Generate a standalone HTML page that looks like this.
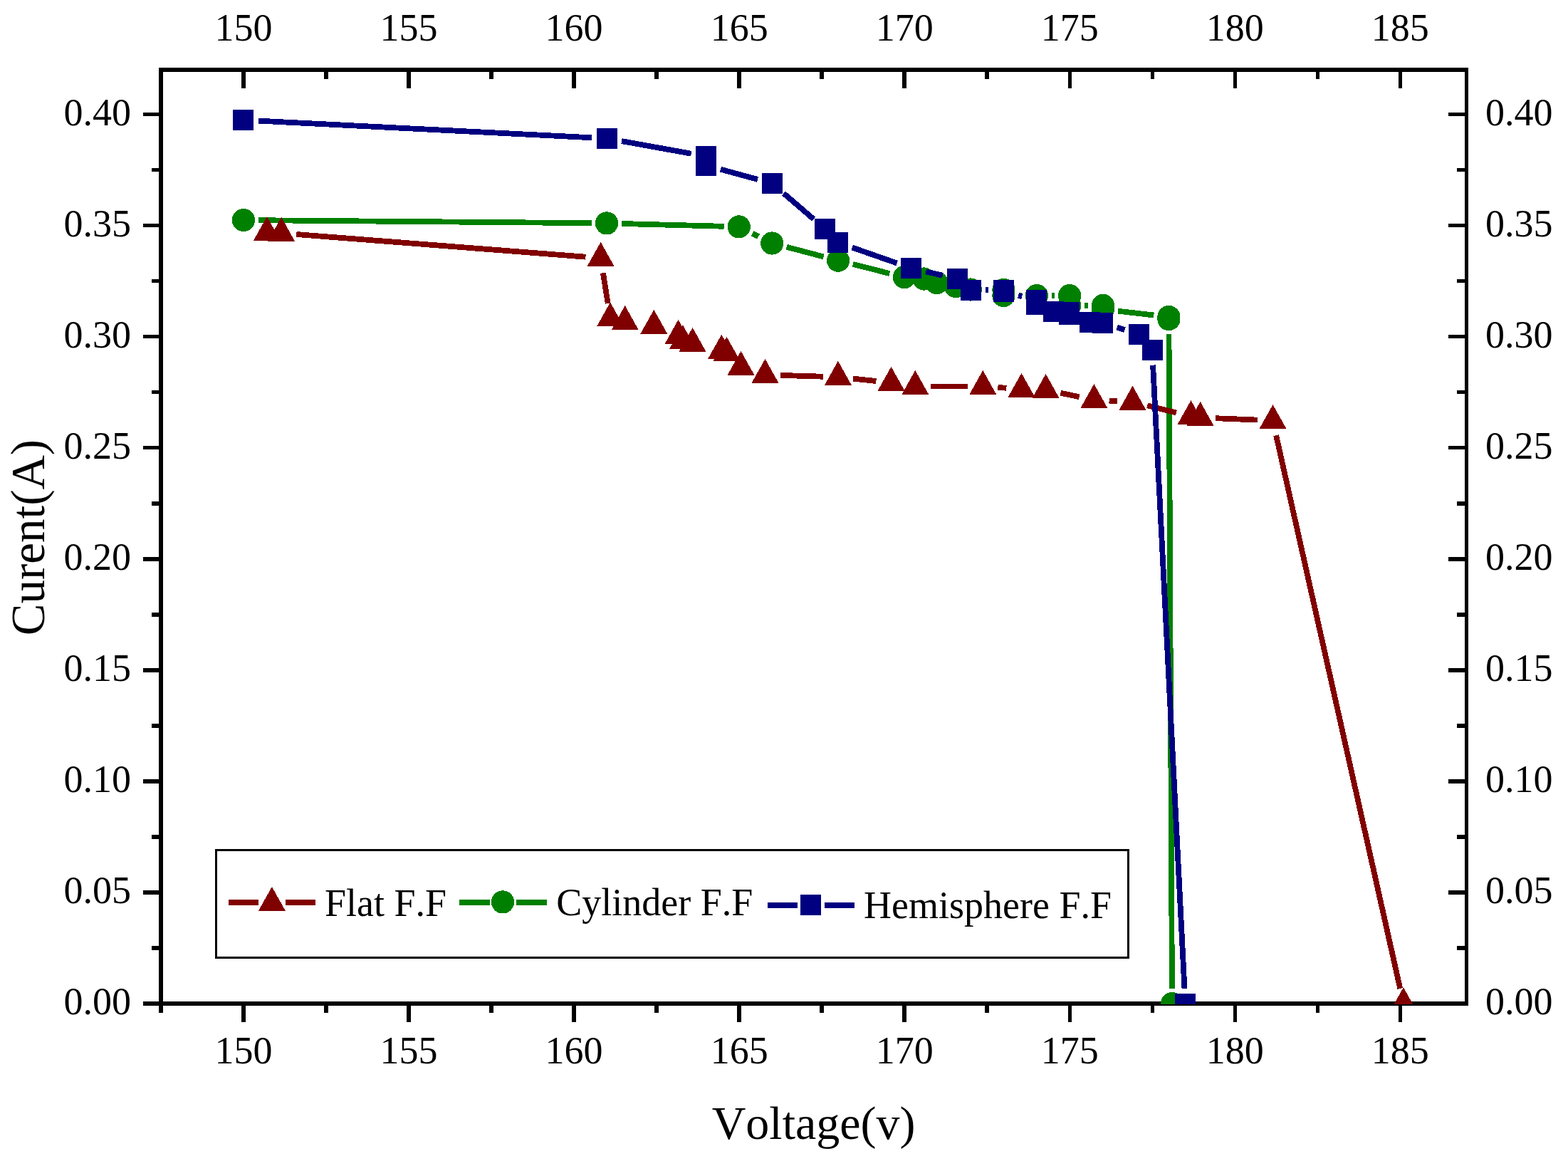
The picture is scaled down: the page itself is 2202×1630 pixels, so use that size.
<!DOCTYPE html>
<html lang="en">
<head>
<meta charset="utf-8">
<title>Current vs Voltage</title>
<style>
html,body{margin:0;padding:0;background:#fff;}
body{width:2202px;height:1630px;overflow:hidden;}
svg{display:block;}
text{font-family:"Liberation Serif",serif;fill:#000;font-kerning:none;}
.tick{font-size:54px;}
.title{font-size:66.7px;}
.leg{font-size:54px;}
</style>
</head>
<body>
<svg width="2202" height="1630" viewBox="0 0 2202 1630" role="img" aria-label="Current versus voltage for Flat, Cylinder and Hemisphere F.F">
<rect x="0" y="0" width="2202" height="1630" fill="#fff"/>
<g id="axes" fill="#000" shape-rendering="crispEdges">
<rect x="223" y="95" width="1839" height="6"/>
<rect x="223" y="1406" width="1839" height="6"/>
<rect x="223" y="95" width="6" height="1317"/>
<rect x="2057" y="95" width="5" height="1317"/>
<rect x="223" y="98" width="6" height="13"/><rect x="223" y="1409" width="6" height="13"/>
<rect x="339" y="98" width="6" height="26"/><rect x="339" y="1409" width="6" height="26"/>
<rect x="455" y="98" width="6" height="13"/><rect x="455" y="1409" width="6" height="13"/>
<rect x="571" y="98" width="6" height="26"/><rect x="571" y="1409" width="6" height="26"/>
<rect x="687" y="98" width="6" height="13"/><rect x="687" y="1409" width="6" height="13"/>
<rect x="803" y="98" width="6" height="26"/><rect x="803" y="1409" width="6" height="26"/>
<rect x="919" y="98" width="6" height="13"/><rect x="919" y="1409" width="6" height="13"/>
<rect x="1035" y="98" width="6" height="26"/><rect x="1035" y="1409" width="6" height="26"/>
<rect x="1151" y="98" width="6" height="13"/><rect x="1151" y="1409" width="6" height="13"/>
<rect x="1267" y="98" width="6" height="26"/><rect x="1267" y="1409" width="6" height="26"/>
<rect x="1383" y="98" width="6" height="13"/><rect x="1383" y="1409" width="6" height="13"/>
<rect x="1500" y="98" width="5" height="26"/><rect x="1500" y="1409" width="5" height="26"/>
<rect x="1616" y="98" width="5" height="13"/><rect x="1616" y="1409" width="5" height="13"/>
<rect x="1732" y="98" width="5" height="26"/><rect x="1732" y="1409" width="5" height="26"/>
<rect x="1848" y="98" width="5" height="13"/><rect x="1848" y="1409" width="5" height="13"/>
<rect x="1964" y="98" width="5" height="26"/><rect x="1964" y="1409" width="5" height="26"/>
<rect x="201" y="1406" width="25" height="6"/><rect x="2034" y="1406" width="25" height="6"/>
<rect x="213" y="1328" width="13" height="6"/><rect x="2046" y="1328" width="13" height="6"/>
<rect x="201" y="1250" width="25" height="6"/><rect x="2034" y="1250" width="25" height="6"/>
<rect x="213" y="1172" width="13" height="6"/><rect x="2046" y="1172" width="13" height="6"/>
<rect x="201" y="1094" width="25" height="6"/><rect x="2034" y="1094" width="25" height="6"/>
<rect x="213" y="1016" width="13" height="6"/><rect x="2046" y="1016" width="13" height="6"/>
<rect x="201" y="938" width="25" height="6"/><rect x="2034" y="938" width="25" height="6"/>
<rect x="213" y="860" width="13" height="6"/><rect x="2046" y="860" width="13" height="6"/>
<rect x="201" y="782" width="25" height="6"/><rect x="2034" y="782" width="25" height="6"/>
<rect x="213" y="704" width="13" height="6"/><rect x="2046" y="704" width="13" height="6"/>
<rect x="201" y="626" width="25" height="5"/><rect x="2034" y="626" width="25" height="5"/>
<rect x="213" y="548" width="13" height="5"/><rect x="2046" y="548" width="13" height="5"/>
<rect x="201" y="470" width="25" height="5"/><rect x="2034" y="470" width="25" height="5"/>
<rect x="213" y="392" width="13" height="5"/><rect x="2046" y="392" width="13" height="5"/>
<rect x="201" y="314" width="25" height="5"/><rect x="2034" y="314" width="25" height="5"/>
<rect x="213" y="236" width="13" height="5"/><rect x="2046" y="236" width="13" height="5"/>
<rect x="201" y="158" width="25" height="5"/><rect x="2034" y="158" width="25" height="5"/>
</g>
<g id="xlabels" class="tick" text-anchor="middle">
<text x="342" y="56.6">150</text><text x="342" y="1493.4">150</text>
<text x="574" y="56.6">155</text><text x="574" y="1493.4">155</text>
<text x="806.1" y="56.6">160</text><text x="806.1" y="1493.4">160</text>
<text x="1038.2" y="56.6">165</text><text x="1038.2" y="1493.4">165</text>
<text x="1270.2" y="56.6">170</text><text x="1270.2" y="1493.4">170</text>
<text x="1502.2" y="56.6">175</text><text x="1502.2" y="1493.4">175</text>
<text x="1734.3" y="56.6">180</text><text x="1734.3" y="1493.4">180</text>
<text x="1966.3" y="56.6">185</text><text x="1966.3" y="1493.4">185</text>
</g>
<g id="ylabels" class="tick">
<text x="184" y="1424.3" text-anchor="end">0.00</text><text x="2086.1" y="1424.3">0.00</text>
<text x="184" y="1268.3" text-anchor="end">0.05</text><text x="2086.1" y="1268.3">0.05</text>
<text x="184" y="1112.2" text-anchor="end">0.10</text><text x="2086.1" y="1112.2">0.10</text>
<text x="184" y="956.2" text-anchor="end">0.15</text><text x="2086.1" y="956.2">0.15</text>
<text x="184" y="800.1" text-anchor="end">0.20</text><text x="2086.1" y="800.1">0.20</text>
<text x="184" y="644" text-anchor="end">0.25</text><text x="2086.1" y="644">0.25</text>
<text x="184" y="488" text-anchor="end">0.30</text><text x="2086.1" y="488">0.30</text>
<text x="184" y="331.9" text-anchor="end">0.35</text><text x="2086.1" y="331.9">0.35</text>
<text x="184" y="175.8" text-anchor="end">0.40</text><text x="2086.1" y="175.8">0.40</text>
</g>
<text class="title" x="1142.6" y="1599.4" text-anchor="middle" style="font-size:66px">Voltage(v)</text>
<text class="title" transform="translate(61.8 754.5) rotate(-90)" text-anchor="middle" style="font-size:67px">Curent(A)</text>
<defs><clipPath id="clip"><rect x="226" y="98" width="1834" height="1312"/></clipPath></defs>
<g id="data" clip-path="url(#clip)" shape-rendering="crispEdges">
<g id="cylinder"><path d="M363.1 309.2L830.8 313.2M873.2 314L1016.6 317.8M1056.8 327.8L1065.2 332.1M1104.7 346.8L1156.6 360.4M1197.7 370.9L1249.3 384M1384.1 406.7L1388.2 406.7M1430.6 415L1434.7 415M1477.1 415L1481 415M1523.4 428.9L1527.8 428.9M1570.1 436.7L1620.3 442.5M1641.5 469.3L1645.9 1387.9" stroke="#008000" stroke-width="7.8" fill="none"/><circle cx="341.9" cy="309" r="16.1" fill="#008000"/><circle cx="852" cy="313.4" r="16.1" fill="#008000"/><circle cx="1037.8" cy="318.4" r="16.1" fill="#008000"/><circle cx="1084.2" cy="341.5" r="16.1" fill="#008000"/><circle cx="1177.1" cy="365.7" r="16.1" fill="#008000"/><circle cx="1269.9" cy="389.2" r="16.1" fill="#008000"/><circle cx="1297.5" cy="391.5" r="16.1" fill="#008000"/><circle cx="1315.5" cy="397.1" r="16.1" fill="#008000"/><circle cx="1342.2" cy="402.1" r="16.1" fill="#008000"/><circle cx="1362.9" cy="406.5" r="16.1" fill="#008000"/><circle cx="1409.4" cy="406.9" r="16.1" fill="#008000"/><circle cx="1409.4" cy="415" r="16.1" fill="#008000"/><circle cx="1455.9" cy="415" r="16.1" fill="#008000"/><circle cx="1502.2" cy="415" r="16.1" fill="#008000"/><circle cx="1502.2" cy="428.9" r="16.1" fill="#008000"/><circle cx="1549" cy="428.9" r="16.1" fill="#008000"/><circle cx="1549" cy="434.2" r="16.1" fill="#008000"/><circle cx="1641.4" cy="445" r="16.1" fill="#008000"/><circle cx="1641.4" cy="448.1" r="16.1" fill="#008000"/><circle cx="1646" cy="1409.1" r="16.1" fill="#008000"/></g>
<g id="flat"><path d="M416.3 329L822.5 360.7M846.9 383.2L853.7 426M1095.7 526.9L1155.7 528.7M1198 531.6L1230.4 535M1306.5 542.4L1359.1 542.4M1401.4 543.9L1413.4 544.8M1489.4 551.7L1515.6 557.2M1557.6 562.6L1569.3 563.1M1611.1 569.3L1651.9 579.4M1706.8 587.2L1766.3 589.6M1792.1 611.2L1966.3 1388" stroke="#800000" stroke-width="7.8" fill="none"/><path d="M374.9 303.9L393.9 337.9L355.9 337.9zM395.2 304.9L414.2 338.9L376.2 338.9zM843.6 339.8L862.6 373.8L824.6 373.8zM857 424.4L876 458.4L838 458.4zM877.7 429L896.7 463L858.7 463zM918.3 434.8L937.3 468.8L899.3 468.8zM952.5 448.9L971.5 482.9L933.5 482.9zM958.8 456.2L977.8 490.2L939.8 490.2zM972.6 459.9L991.6 493.9L953.6 493.9zM1013.3 469.6L1032.3 503.6L994.3 503.6zM1020.5 472.8L1039.5 506.8L1001.5 506.8zM1040.5 492.8L1059.5 526.8L1021.5 526.8zM1074.5 503.8L1093.5 537.8L1055.5 537.8zM1176.9 506.8L1195.9 540.8L1157.9 540.8zM1251.5 514.8L1270.5 548.8L1232.5 548.8zM1285.3 519.9L1304.3 553.9L1266.3 553.9zM1380.3 519.9L1399.3 553.9L1361.3 553.9zM1434.5 523.8L1453.5 557.8L1415.5 557.8zM1468.6 524.9L1487.6 558.9L1449.6 558.9zM1536.4 539L1555.4 573L1517.4 573zM1590.5 541.7L1609.5 575.7L1571.5 575.7zM1672.5 562L1691.5 596L1653.5 596zM1685.6 563.8L1704.6 597.8L1666.6 597.8zM1787.5 568L1806.5 602L1768.5 602zM1970.9 1386.2L1989.9 1420.2L1951.9 1420.2z" fill="#800000"/></g>
<g id="hemisphere"><path d="M362.7 169.6L830.9 193.3M873 198.1L970.7 215.7M1012 237.7L1064.1 251.9M1100.5 271.4L1142.6 307.6M1196.8 347.5L1259.6 369.5M1300.2 381.3L1323.9 386.8M1384.3 407.2L1388.4 407.2M1430.1 415L1435.2 416.3M1568.7 459.7L1579.4 463.1M1619.1 512.6L1663.5 1388.1" stroke="#000080" stroke-width="7.8" fill="none"/><path d="M327 154h29v29h-29zM837.6 179.9h29v29h-29zM977.1 204.9h29v29h-29zM977.1 217.6h29v29h-29zM1070 243h29v29h-29zM1144.1 307h29v29h-29zM1162.3 326h29v29h-29zM1265.1 362h29v29h-29zM1330 377.1h29v29h-29zM1348.6 392.5h29v29h-29zM1395.1 392.9h29v29h-29zM1395.1 395.2h29v29h-29zM1441.2 407.1h29v29h-29zM1441.2 412.8h29v29h-29zM1465.1 422.5h29v29h-29zM1487.3 423.8h29v29h-29zM1487.3 426.9h29v29h-29zM1516.3 437.6h29v29h-29zM1534 438.9h29v29h-29zM1585.1 454.9h29v29h-29zM1603.5 476.9h29v29h-29zM1650.1 1394.8h29v29h-29z" fill="#000080"/></g>
</g>
<g id="legend" shape-rendering="crispEdges">
<rect x="303.5" y="1193.5" width="1281" height="151" fill="#fff" stroke="#000" stroke-width="3" shape-rendering="crispEdges"/>
<path d="M320.9 1267.3H363.1M401 1267.3H443.3" stroke="#800000" stroke-width="8" fill="none"/><path d="M381.9 1244.9L400.9 1278.9L362.9 1278.9z" fill="#800000"/>
<text class="leg" x="456" y="1285.6">Flat F.F</text>
<path d="M644.9 1266.8H687.8M725.1 1266.8H768.2" stroke="#008000" stroke-width="8" fill="none"/><circle cx="706" cy="1266.4" r="16.1" fill="#008000"/>
<text class="leg" x="781.2" y="1285.3">Cylinder F.F</text>
<path d="M1077.9 1271H1119.9M1158 1271H1199.6" stroke="#000080" stroke-width="8" fill="none"/><path d="M1124 1256.1h29v29h-29z" fill="#000080"/>
<text class="leg" x="1213" y="1289.2">Hemisphere F.F</text>
</g>
</svg>
</body>
</html>
